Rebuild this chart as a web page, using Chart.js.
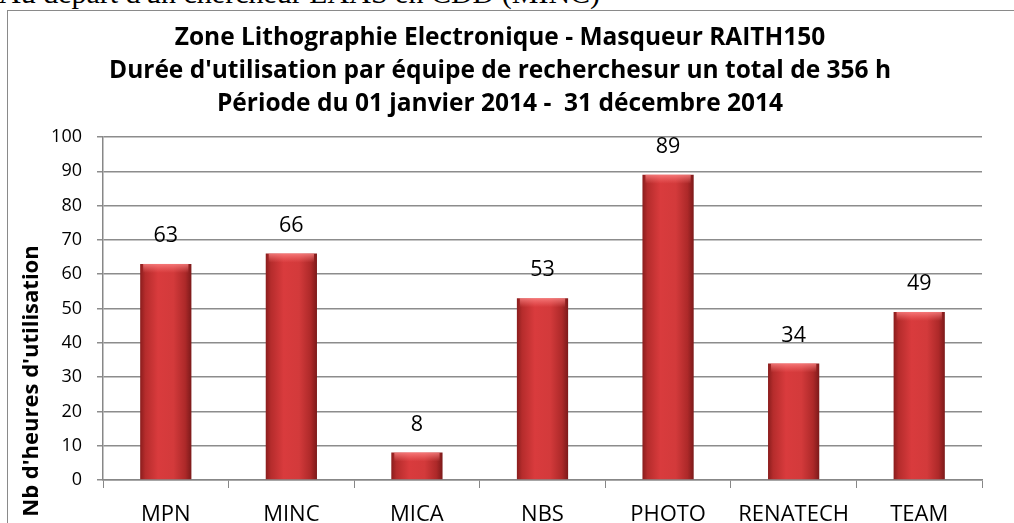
<!DOCTYPE html>
<html>
<head>
<meta charset="utf-8">
<script src="https://cdn.jsdelivr.net/npm/chart.js@4"></script>
<style>
  html, body { margin: 0; padding: 0; background: #fff; overflow: hidden; }
  body { width: 1014px; height: 523px; position: relative; }
  #note { position: absolute; left: -1px; top: -24px; font: 30px "Liberation Serif", serif; color: #000; white-space: nowrap; }
  #cadre { position: absolute; left: 7px; top: 10px; width: 1100px; height: 600px; border: 1.5px solid #8a8a8a; box-sizing: border-box; }
  #wrap { position: absolute; left: 0; top: 0; width: 1014px; height: 523px; }
</style>
</head>
<body>
<div id="note">Au départ d'un chercheur LAAS en CDD (MINC)</div>
<div id="cadre"></div>
<div id="wrap"><canvas id="grafico"></canvas></div>
<script>
const categories = ["MPN", "MINC", "MICA", "NBS", "PHOTO", "RENATECH", "TEAM"];
const hours = [63, 66, 8, 53, 89, 34, 49];
const yMin = 0, yMax = 100, yStep = 10;
const titleLines = [
    "Zone Lithographie Electronique - Masqueur RAITH150",
    "Durée d'utilisation par équipe de recherchesur un total de 356 h",
    "Période du 01 janvier 2014 -  31 décembre 2014"
];
const yAxisTitle = "Nb d'heures d'utilisation";

const FONT = "'Open Sans', sans-serif";

function barFill(ctx) {
    const chart = ctx.chart;
    const xs = chart.scales.x;
    if (!xs || ctx.dataIndex === undefined) return '#d23a3b';
    const cx = xs.getPixelForValue(ctx.dataIndex);
    const w = (xs.width / categories.length) * 0.8 * 0.51;
    if (!isFinite(cx) || !isFinite(w) || w <= 0) return '#d23a3b';
    const g = chart.ctx.createLinearGradient(cx - w / 2, 0, cx + w / 2, 0);
    g.addColorStop(0, '#8a1d1d');
    g.addColorStop(0.1, '#b52c2c');
    g.addColorStop(0.35, '#d93b3d');
    g.addColorStop(0.65, '#d33a3b');
    g.addColorStop(0.88, '#ad2929');
    g.addColorStop(1, '#7c1a1a');
    return g;
}

// valeurs au-dessus des barres + reflet en haut des barres
const etiquettes = {
    id: 'etiquettes',
    afterDatasetsDraw(chart) {
        const c = chart.ctx;
        const meta = chart.getDatasetMeta(0);
        meta.data.forEach((bar, i) => {
            const left = bar.x - bar.width / 2;
            const g = c.createLinearGradient(0, bar.y, 0, bar.y + 9);
            g.addColorStop(0, 'rgba(255,140,140,0.75)');
            g.addColorStop(1, 'rgba(255,120,120,0)');
            c.save();
            c.fillStyle = g;
            c.fillRect(left + 3, bar.y, bar.width - 6, 9);
            c.restore();

            c.save();
            c.fillStyle = '#000';
            c.font = "21.5px " + FONT;
            c.textAlign = 'center';
            c.textBaseline = 'middle';
            c.fillText(String(hours[i]), bar.x, bar.y - 28);
            c.restore();
        });
    },
    afterDraw(chart) {
        const c = chart.ctx;
        c.save();
        c.translate(32, 381);
        c.rotate(-Math.PI / 2);
        c.fillStyle = '#000';
        c.font = "bold 22px " + FONT;
        c.textAlign = 'center';
        c.textBaseline = 'middle';
        c.fillText(yAxisTitle, 0, 0);
        c.restore();
    }
};

document.addEventListener("DOMContentLoaded", function () {

    new Chart(document.getElementById("grafico"), {
        type: "bar",
        data: {
            labels: categories,
            datasets: [
                {
                    label: "Heures",
                    data: hours,
                    backgroundColor: barFill,
                    categoryPercentage: 0.8,
                    barPercentage: 0.51
                }
            ]
        },
        options: {
            responsive: true,
            maintainAspectRatio: false,
            animation: false,
            layout: { padding: { left: 18, right: 32, top: 0, bottom: 0 } },
            plugins: {
                legend: { display: false },
                tooltip: { enabled: false },
                title: {
                    display: true,
                    text: titleLines,
                    color: '#000',
                    font: { family: FONT, size: 24.5, weight: 'bold', lineHeight: 1.347 },
                    padding: { top: 21.5, bottom: 16.5 }
                }
            },
            scales: {
                x: {
                    grid: { drawOnChartArea: false, drawTicks: true, tickLength: 8, color: '#878787', offset: true },
                    border: { color: '#878787', width: 1.5 },
                    ticks: { color: '#000', font: { family: FONT, size: 22 }, padding: 14, maxRotation: 0 },
                    afterFit(s) { s.height = 43; }
                },
                y: {
                    min: yMin,
                    max: yMax,
                    grid: { color: '#8c8c8c', lineWidth: 1.5, tickLength: 6 },
                    border: { color: '#878787', width: 1.5 },
                    ticks: { stepSize: yStep, color: '#000', font: { family: FONT, size: 18 }, padding: 15 },
                    afterFit(s) { s.width = 85; }
                }
            }
        },
        plugins: [etiquettes]
    });

});
</script>
</body>
</html>
